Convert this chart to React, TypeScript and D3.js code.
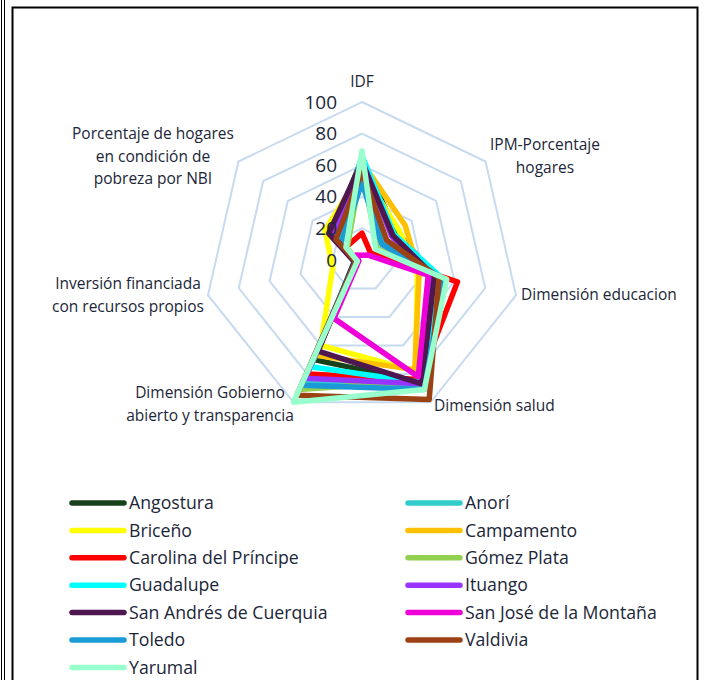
import React, { useEffect, useRef } from 'react';
import * as d3 from 'd3';

const axes = [
  ['IDF'],
  ['IPM-Porcentaje', 'hogares'],
  ['Dimensión educacion'],
  ['Dimensión salud'],
  ['Dimensión Gobierno', 'abierto y transparencia'],
  ['Inversión financiada', 'con recursos propios'],
  ['Porcentaje de hogares', 'en condición de', 'pobreza por NBI'],
];
const ticks = [0, 20, 40, 60, 80, 100];

const municipios = [
  'Angostura', 'Anorí', 'Briceño', 'Campamento', 'Carolina del Príncipe',
  'Gómez Plata', 'Guadalupe', 'Ituango', 'San Andrés de Cuerquia',
  'San José de la Montaña', 'Toledo', 'Valdivia', 'Yarumal',
];
const colores = [
  '#17401b', '#33cccc', '#ffff00', '#ffc000', '#ff0000',
  '#92d050', '#00ffff', '#9933ff', '#4f1750',
  '#f000d8', '#1a9ad6', '#9a4214', '#99ffcc',
];

// IDF, IPM, educacion, salud, gobierno, inversion, NBI
const angostura = [64, 28, 48, 86, 70, 4, 25];
const anori = [63, 18, 52, 90, 86, 4, 16];
const briceno = [56, 30, 36, 78, 60, 19, 30];
const campamento = [62, 35, 37, 77, 67, 5, 22];
const carolina = [17, 7, 62, 84, 80, 3, 13];
const gomezPlata = [60, 12, 50, 85, 91, 3, 12];
const guadalupe = [66, 26, 52, 86, 75, 5, 20];
const ituango = [63, 24, 46, 87, 83, 4, 24];
const sanAndres = [62, 25, 47, 87, 64, 5, 27];
const sanJose = [3, 5, 43, 82, 41, 2, 5];
const toledo = [49, 16, 53, 91, 88, 4, 17];
const valdivia = [56, 20, 50, 98, 95, 4, 21];
const yarumal = [69, 11, 55, 91, 100, 3, 13];

const series = [
  angostura, anori, briceno, campamento, carolina, gomezPlata, guadalupe,
  ituango, sanAndres, sanJose, toledo, valdivia, yarumal,
];

const textColor = '#1b2638';
const font = '"Open Sans", "Noto Sans", sans-serif';

const App = () => {
  const ref = useRef<SVGSVGElement>(null);

  useEffect(() => {
    const svg = d3.select(ref.current);
    svg.selectAll('*').remove();

    // outer frame
    svg.append('line').attr('x1', 1.5).attr('x2', 1.5).attr('y1', 0).attr('y2', 680)
      .attr('stroke', '#000').attr('stroke-width', 1);
    svg.append('line').attr('x1', 4.5).attr('x2', 4.5).attr('y1', 0).attr('y2', 680)
      .attr('stroke', '#000').attr('stroke-width', 1);
    svg.append('rect').attr('x', 12.5).attr('y', 7.5).attr('width', 685).attr('height', 700)
      .attr('fill', 'none').attr('stroke', '#000').attr('stroke-width', 2);

    const cx = 362, cy = 260, R = 158;
    const r = d3.scaleLinear().domain([0, 100]).range([0, R]);
    const angle = d3.scaleLinear().domain([0, axes.length]).range([0, 2 * Math.PI]);

    const g = svg.append('g').attr('transform', `translate(${cx},${cy})`);

    // grid rings
    const ring = d3.lineRadial<number>()
      .angle((_, i) => angle(i))
      .radius(d => r(d))
      .curve(d3.curveLinearClosed);
    ticks.slice(1).forEach(t => {
      g.append('path')
        .attr('d', ring(axes.map(() => t)))
        .attr('fill', 'none')
        .attr('stroke', '#c6daf0')
        .attr('stroke-width', 2);
    });

    // series
    const line = d3.lineRadial<number>()
      .angle((_, i) => angle(i))
      .radius(d => r(d))
      .curve(d3.curveLinearClosed);
    series.forEach((s, i) => {
      g.append('path')
        .attr('d', line(s))
        .attr('fill', 'none')
        .attr('stroke', colores[i])
        .attr('stroke-width', 5.5)
        .attr('stroke-linejoin', 'round');
    });

    // tick labels
    g.selectAll('.tick')
      .data(ticks)
      .enter().append('text')
      .attr('x', -25)
      .attr('y', d => -r(d))
      .attr('dy', '0.35em')
      .attr('text-anchor', 'end')
      .attr('font-family', font)
      .attr('font-size', 19)
      .attr('fill', textColor)
      .text(d => d);

    // axis labels
    const labelPos = [
      { x: 362, y: 82, anchor: 'middle' },
      { x: 545, y: 145, anchor: 'middle' },
      { x: 521, y: 295, anchor: 'start' },
      { x: 434, y: 406, anchor: 'start' },
      { x: 210, y: 393, anchor: 'middle' },
      { x: 128, y: 284, anchor: 'middle' },
      { x: 153, y: 134, anchor: 'middle' },
    ];
    axes.forEach((lines, i) => {
      const p = labelPos[i];
      const t = svg.append('text')
        .attr('text-anchor', p.anchor)
        .attr('font-family', font)
        .attr('font-size', 15.5)
        .attr('fill', textColor);
      lines.forEach((l, j) => {
        t.append('tspan').attr('x', p.x).attr('y', p.y + j * 22.5).attr('dy', '0.35em').text(l);
      });
    });

    // legend
    const leg = svg.append('g');
    municipios.forEach((m, i) => {
      const col = i % 2, row = Math.floor(i / 2);
      const x0 = col === 0 ? 72 : 408;
      const y0 = 503 + row * 27.4;
      leg.append('line')
        .attr('x1', x0).attr('x2', x0 + 52)
        .attr('y1', y0).attr('y2', y0)
        .attr('stroke', colores[i]).attr('stroke-width', 5.5)
        .attr('stroke-linecap', 'round');
      leg.append('text')
        .attr('x', x0 + 57).attr('y', y0).attr('dy', '0.35em')
        .attr('font-family', font).attr('font-size', 17.7)
        .attr('fill', textColor)
        .text(m);
    });
  }, []);

  return (
    <svg ref={ref} width={704} height={680}
      style={{ position: 'absolute', left: 0, top: 0, background: '#fff' }} />
  );
};

export default App;
